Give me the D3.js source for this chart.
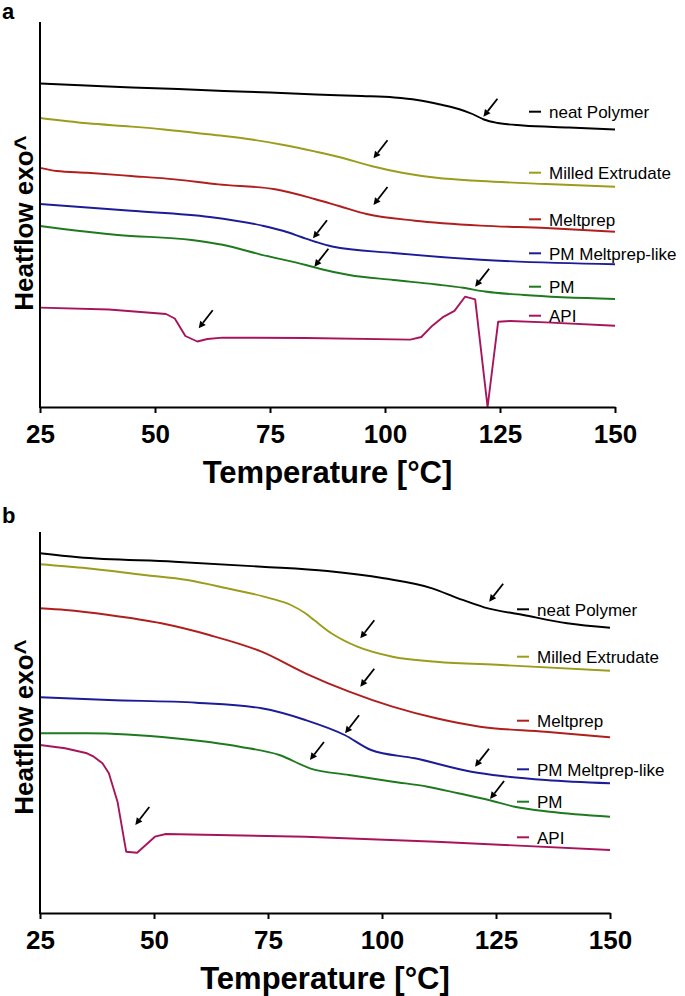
<!DOCTYPE html>
<html><head><meta charset="utf-8">
<script src="https://cdn.jsdelivr.net/npm/d3@7"></script>
<style>body{margin:0;background:#fff}svg{display:block}</style>
</head><body><svg id="c" width="685" height="996"></svg>
<script>
// ---------- data ----------
const temperatureTicks = [25, 50, 75, 100, 125, 150];
const seriesNames = ["neat Polymer", "Milled Extrudate", "Meltprep", "PM Meltprep-like", "PM", "API"];
const seriesColors = ["#000000", "#9c9c1c", "#b01e1e", "#1c1c98", "#1e7a1e", "#a8145c"];

// Panel a  [temperature °C, heat flow (arb. units)]
const aNeatPolymer = [[25,32.35],[35,32.15],[45,31.95],[55,31.8],[65,31.6],[75,31.45],[85,31.25],[95,31.1],[102,30.95],[107,30.7],[112,30.25],[116,29.8],[119,29.3],[121.5,28.75],[124.5,28.4],[130,28.15],[140,27.95],[150,27.75]];
const aMilledExtrudate = [[25,28.9],[35.3,28.37],[44.8,28.04],[52,27.75],[59,27.4],[65,27.1],[71.4,26.72],[78,26.2],[84.7,25.56],[90,25.0],[97,24.1],[104,23.4],[111.2,22.92],[120.8,22.6],[135,22.3],[150,22.03]];
const aMeltprep = [[25,23.91],[28.6,23.6],[35.3,23.42],[44.8,23.1],[54.3,22.76],[63.8,22.26],[76.1,21.77],[84.7,20.8],[90,20.1],[96,19.3],[106.5,18.63],[120.8,18.14],[135,17.9],[150,17.53]];
const aPMMeltpreplike = [[25,20.3],[44.8,19.62],[61.9,19.0],[73.3,18.14],[78,17.6],[81.8,17.0],[85,16.5],[88.5,16.05],[101.8,15.4],[120.8,14.73],[150,14.27]];
const aPM = [[25,18.1],[30,17.8],[41.9,17.2],[58,16.7],[64.7,16.22],[73.2,15.22],[82.8,14.2],[86,13.8],[92.2,13.2],[101.8,12.7],[111.2,12.25],[117,11.92],[121.7,11.55],[130.2,11.2],[150,10.8]];
const aAPI = [[25,9.94],[40,9.75],[52.4,9.3],[54.3,8.85],[56.6,7.1],[59.2,6.55],[61.4,6.8],[64.7,6.94],[82.8,6.9],[105.5,6.74],[107.9,7.0],[110.3,8.13],[112.7,9.02],[115.1,9.61],[117.4,11.03],[119.6,10.77],[122.3,0.0],[124.6,8.53],[127.2,8.6],[135,8.46],[150,8.13]];
// arrow tips panel a [temperature, heat flow]
const aArrows = [[121.4,29.03],[97.5,24.87],[97.5,20.2],[84.35,16.87],[84.65,14.03],[119.6,12.03],[59.5,7.87]];

// Panel b
const bNeatPolymer = [[25,35.97],[33.4,35.57],[54.5,35.13],[73.6,34.63],[88,34.2],[100.4,33.47],[111,32.47],[116.7,31.47],[122.4,30.57],[131,29.8],[140.6,28.97],[150,28.53]];
const bMilledExtrudate = [[25,34.87],[35.3,34.47],[47.8,33.8],[57.3,33.3],[66,32.47],[75.5,31.47],[80,30.8],[83.2,29.97],[85.1,29.3],[88.9,27.97],[94.6,26.63],[102.3,25.63],[111.9,25.13],[126.2,24.8],[150,24.23]];
const bMeltprep = [[25,30.47],[30.6,30.3],[40.1,29.8],[51.6,28.97],[62.1,27.8],[73.6,26.13],[83.2,23.97],[92.8,22.13],[102.3,20.63],[111.9,19.47],[121.5,18.63],[135.8,18.13],[150,17.57]];
const bPMMeltpreplike = [[25,21.57],[40.1,21.3],[59.3,21.03],[73.6,20.47],[83.2,19.3],[91.8,17.8],[97.6,16.3],[107.2,15.47],[119.6,14.13],[126.3,13.7],[135.9,13.3],[150,12.97]];
const bPM = [[25,17.97],[35.3,17.97],[54.5,17.47],[68.8,16.63],[77.5,15.8],[84.2,14.47],[92.8,13.8],[102.4,13.13],[110,12.63],[116.7,11.97],[123.4,11.3],[129.1,10.63],[136.8,10.13],[150,9.63]];
const bAPI = [[25,16.8],[30.5,16.47],[35.3,15.97],[36.8,15.63],[38.7,14.97],[40.1,13.97],[42,11.13],[43.9,6.13],[46.3,6.03],[50.2,7.63],[52.6,7.9],[83.2,7.63],[111.9,7.13],[150,6.3]];
const bArrows = [[123.5,31.13],[95.24,27.47],[95.24,22.63],[91.9,17.97],[84.2,15.3],[120.4,14.63],[123.7,11.4],[45.9,8.8]];

// ---------- layout ----------
const panels = [
  {label:"a", series:[aNeatPolymer,aMilledExtrudate,aMeltprep,aPMMeltpreplike,aPM,aAPI], arrows:aArrows,
   left:40, right:615, top:22, bottom:407, ymax:38.5, legendY:[111.7,172.7,219.3,253.3,286.7,315.7], legendX:529,
   labelY:19, yLabelCenter:223},
  {label:"b", series:[bNeatPolymer,bMilledExtrudate,bMeltprep,bPMMeltpreplike,bPM,bAPI], arrows:bArrows,
   left:40, right:610, top:532, bottom:913, ymax:38.1, legendY:[609.3,656.7,720.7,769.3,801.7,837.3], legendX:517,
   labelY:523, yLabelCenter:727}
];

const svg = d3.select("#c");
const FONT = "'Liberation Sans', Arial, Helvetica, sans-serif";

panels.forEach(p => {
  const x = d3.scaleLinear().domain([25,150]).range([p.left,p.right]);
  const y = d3.scaleLinear().domain([0,p.ymax]).range([p.bottom,p.top]);
  const g = svg.append("g");

  g.append("text").attr("x",2).attr("y",p.labelY).text(p.label)
    .attr("font-family",FONT).attr("font-weight","bold").attr("font-size",22);

  // curves
  p.series.forEach((s,i) => {
    const line = d3.line().x(d=>x(d[0])).y(d=>y(d[1]))
      .curve(i===5 ? d3.curveLinear : d3.curveMonotoneX);
    g.append("path").datum(s).attr("d",line).attr("fill","none")
      .attr("stroke",seriesColors[i]).attr("stroke-width",1.9).attr("stroke-linejoin","round");
  });

  // x axis
  const ax = g.append("g").attr("transform",`translate(0,${p.bottom})`)
    .call(d3.axisBottom(x).tickValues(temperatureTicks).tickSize(6).tickSizeOuter(0).tickPadding(8));
  ax.select(".domain").attr("stroke","#000").attr("stroke-width",2);
  ax.selectAll(".tick line").attr("stroke","#000").attr("stroke-width",2);
  ax.selectAll(".tick text").attr("font-family",FONT).attr("font-weight","bold").attr("font-size",26).attr("fill","#000").attr("dy","0.85em");

  // y axis line
  g.append("line").attr("x1",p.left).attr("x2",p.left).attr("y1",p.top).attr("y2",p.bottom+1)
    .attr("stroke","#000").attr("stroke-width",2);

  // axis titles
  g.append("text").attr("x",(p.left+p.right)/2).attr("y",p.bottom+76).attr("text-anchor","middle")
    .attr("font-family",FONT).attr("font-weight","bold").attr("font-size",31).text("Temperature [°C]");
  g.append("text").attr("transform",`translate(33,${p.yLabelCenter}) rotate(-90)`).attr("text-anchor","middle")
    .attr("font-family",FONT).attr("font-weight","bold").attr("font-size",26).text("Heatflow exo^");

  // arrows
  p.arrows.forEach(a => {
    const tx = x(a[0]), ty = y(a[1]);
    const dx = 14, dy = -18, L = Math.hypot(dx,dy);
    const ux = dx/L, uy = dy/L;
    const hl = 7, hw = 3.5;
    const bx = tx + ux*hl, by = ty + uy*hl;
    g.append("line").attr("x1",tx+dx).attr("y1",ty+dy).attr("x2",bx).attr("y2",by)
      .attr("stroke","#000").attr("stroke-width",1.8);
    g.append("path").attr("d",`M${tx},${ty}L${bx - uy*hw},${by + ux*hw}L${bx + uy*hw},${by - ux*hw}Z`).attr("fill","#000");
  });

  // legend
  seriesNames.forEach((n,i) => {
    const ly = p.legendY[i];
    g.append("line").attr("x1",p.legendX).attr("x2",p.legendX+12).attr("y1",ly).attr("y2",ly)
      .attr("stroke",seriesColors[i]).attr("stroke-width",2);
    g.append("text").attr("x",p.legendX+20).attr("y",ly+6.2).text(n)
      .attr("font-family",FONT).attr("font-size",17).attr("fill","#000");
  });
});
</script></body></html>
